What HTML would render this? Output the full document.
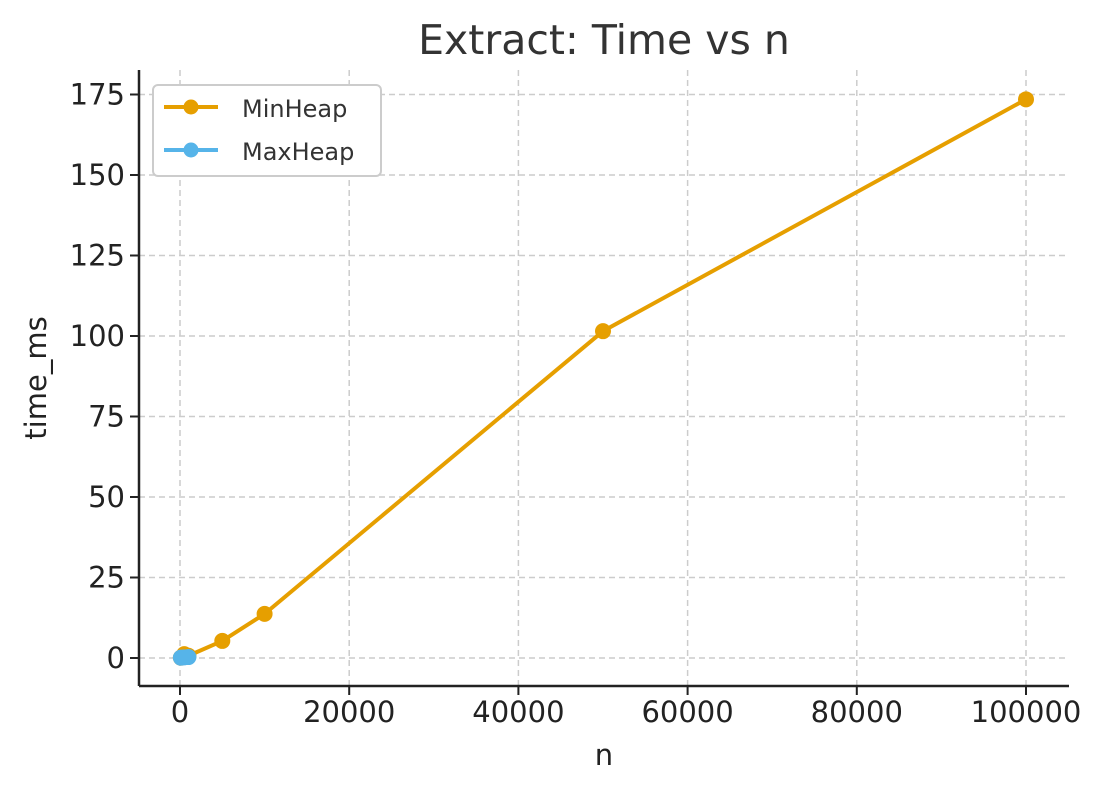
<!DOCTYPE html>
<html><head><meta charset="utf-8"><style>
body{margin:0;background:#fff;}
svg{font-family:"DejaVu Sans","Liberation Sans",sans-serif;}
</style></head><body>
<svg id="chart" width="1110" height="793" xmlns="http://www.w3.org/2000/svg">
<text x="604" y="54" font-size="41" fill="#333" text-anchor="middle">Extract: Time vs n</text>
<g id="grid"></g>
<g id="axes"></g>
<g id="series"></g>
<text x="604" y="765" font-size="29" fill="#222" text-anchor="middle">n</text>
<text transform="translate(46,378) rotate(-90)" font-size="29" fill="#222" text-anchor="middle">time_ms</text>
<g>
<rect x="153" y="85" width="228" height="91" rx="5" fill="#fff" stroke="#ccc" stroke-width="2"/>
<g>
<line x1="164" y1="107" x2="218" y2="107" stroke="#E69F00" stroke-width="4"/>
<circle cx="191" cy="107" r="7.5" fill="#E69F00"/>
<text x="242" y="117" font-size="24" fill="#333">MinHeap</text></g>
<g>
<line x1="164" y1="150" x2="218" y2="150" stroke="#56B4E9" stroke-width="4"/>
<circle cx="191" cy="150" r="7.5" fill="#56B4E9"/>
<text x="242" y="160" font-size="24" fill="#333">MaxHeap</text></g>
</g>
</svg>
<script>
const xTicks=[0,20000,40000,60000,80000,100000];
const yTicks=[0,25,50,75,100,125,150,175];
const nValues=[100,500,1000,5000,10000,50000,100000];
const minHeap=[0.1,1.2,0.7,5.3,13.7,101.5,173.5];
const maxNValues=[100,500,1000];
const maxHeap=[0.1,0.2,0.3];
const L=139,R=1069,T=70,B=686;
const sx=v=>180+v*(1026-180)/100000;
const sy=v=>658-v*(658-94.5)/175;
const NS="http://www.w3.org/2000/svg";
function mk(tag,attrs,parent){const e=document.createElementNS(NS,tag);for(const k in attrs)e.setAttribute(k,attrs[k]);parent.appendChild(e);return e;}
const grid=document.getElementById('grid'),axes=document.getElementById('axes'),series=document.getElementById('series');
xTicks.forEach(t=>{
 const g=mk('line',{x1:sx(t),x2:sx(t),y1:T,y2:B,stroke:'#ccc','stroke-width':1.5,'stroke-dasharray':'6,4'},grid);
 
 
 mk('line',{x1:sx(t),x2:sx(t),y1:B,y2:B+9,stroke:'#222','stroke-width':2},axes);
 const tx=mk('text',{x:sx(t),y:B+36,'font-size':29,fill:'#222','text-anchor':'middle'},axes);
 tx.textContent=t;
 
 
});
yTicks.forEach(t=>{
 const g=mk('line',{x1:L,x2:R,y1:sy(t),y2:sy(t),stroke:'#ccc','stroke-width':1.5,'stroke-dasharray':'6,4'},grid);
 
 
 mk('line',{x1:L-9,x2:L,y1:sy(t),y2:sy(t),stroke:'#222','stroke-width':2},axes);
 const tx=mk('text',{x:L-14,y:sy(t)+10,'font-size':29,fill:'#222','text-anchor':'end'},axes);
 tx.textContent=t;
 
 
});
const xa=mk('line',{x1:L,x2:R,y1:B,y2:B,stroke:'#222','stroke-width':2.5},axes);


const ya=mk('line',{x1:L,x2:L,y1:T,y2:B,stroke:'#222','stroke-width':2.5},axes);


function draw(xs,ys,color,name){
 const p=mk('polyline',{points:xs.map((x,i)=>sx(x)+','+sy(ys[i])).join(' '),fill:'none',stroke:color,'stroke-width':4,'stroke-linejoin':'round'},series);
 
 
 xs.forEach((x,i)=>{
  const c=mk('circle',{cx:sx(x),cy:sy(ys[i]),r:8,fill:color},series);
  
  
 });
}
draw(nValues,minHeap,'#E69F00','minheap');
draw(maxNValues,maxHeap,'#56B4E9','maxheap');
</script>
</body></html>
